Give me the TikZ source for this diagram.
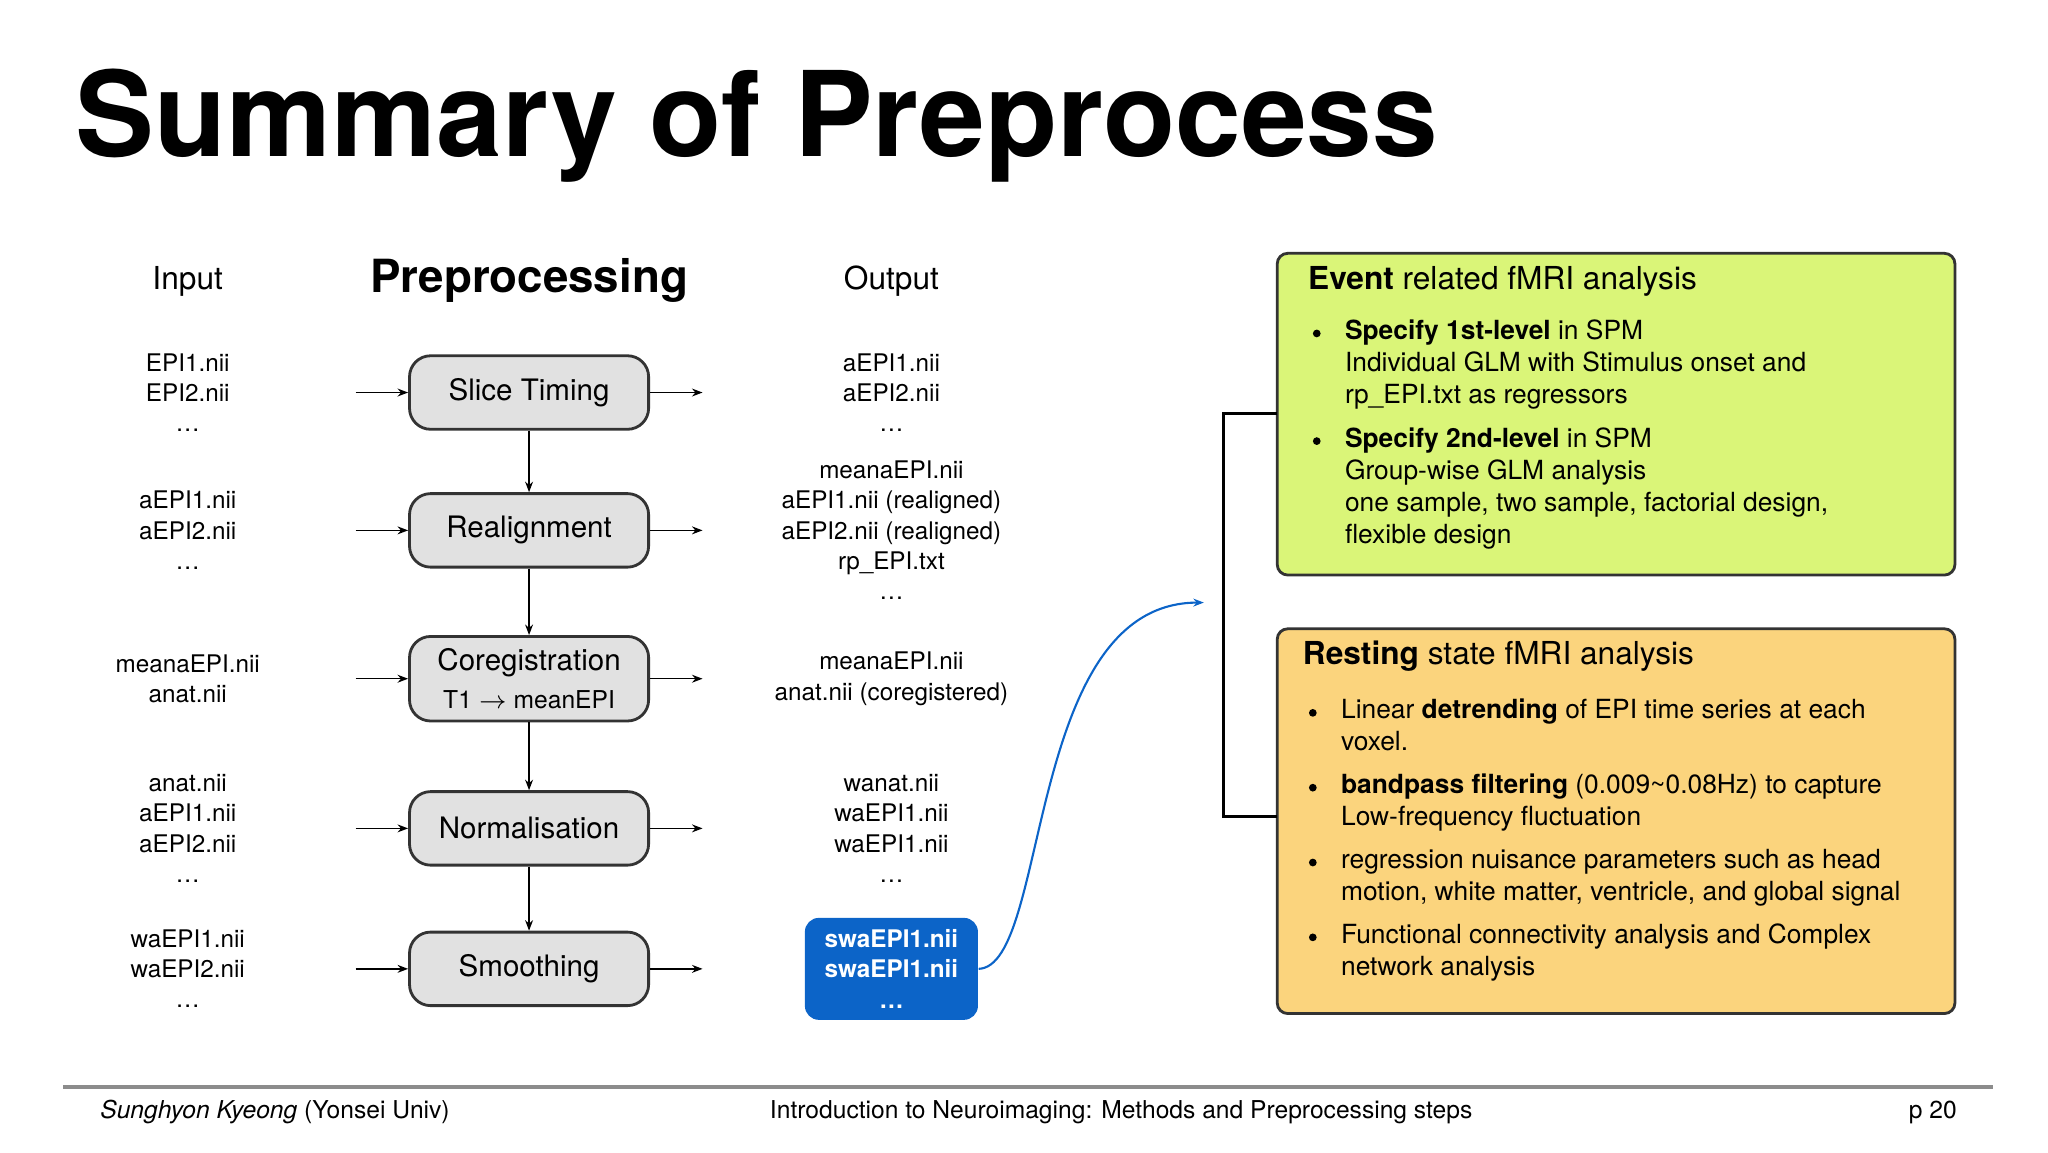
\documentclass[tikz,border=0pt]{standalone}
\usepackage{fontspec}
\setmainfont{TeX Gyre Heros}
\usetikzlibrary{arrows.meta}
\definecolor{boxgray}{RGB}{225,225,225}
\definecolor{outblue}{RGB}{12,100,200}
\definecolor{evgreen}{RGB}{218,245,120}
\definecolor{rsorange}{RGB}{251,212,125}
\begin{document}
\begin{tikzpicture}[x=0.013128cm,y=-0.013128cm,
  stepbox/.style={draw=black!80,fill=boxgray,rounded corners=6pt,line width=0.8pt,
    minimum width=2.39cm,minimum height=0.735cm,font=\fontsize{8.4}{10}\selectfont,align=center},
  txt/.style={font=\fontsize{6.9}{8.6}\selectfont,align=center},
  hdr/.style={font=\fontsize{9}{11}\selectfont},
  arr/.style={-{Stealth[length=3pt]},line width=0.4pt},
  panel/.style={draw=black!80,line width=0.8pt,rounded corners=3pt},
  item/.style={anchor=north west,inner sep=0,align=left,font=\fontsize{7.5}{9.15}\selectfont},
  dot/.style={circle,fill=black,inner sep=0,minimum size=2.2pt}]
\useasboundingbox (0,0) rectangle (1560,878);
% title
\node[anchor=base west,font=\fontsize{33.6}{36}\selectfont\bfseries,inner sep=0] (title) at (57,119) {Summary of Preprocess};
% headers
\node[hdr] (hin) at (143,214) {Input};
\node[hdr,font=\fontsize{13}{15}\selectfont\bfseries] (hpre) at (403,214) {Preprocessing};
\node[hdr] (hout) at (679,214) {Output};
% steps
\node[stepbox] (s1) at (403,299) {Slice Timing};
\node[stepbox] (s2) at (403,404) {Realignment};
\node[stepbox] (s3) at (403,517) {Coregistration\\[1pt]{\fontsize{7}{8}\selectfont T1 $\rightarrow$ meanEPI}};
\node[stepbox] (s4) at (403,631) {Normalisation};
\node[stepbox] (s5) at (403,738) {Smoothing};
\foreach \a/\b in {s1/s2,s2/s3,s3/s4,s4/s5} \draw[arr] (\a) -- (\b);
% inputs
\node[txt] (i1) at (143,299) {EPI1.nii\\EPI2.nii\\\dots};
\node[txt] (i2) at (143,404) {aEPI1.nii\\aEPI2.nii\\\dots};
\node[txt] (i3) at (143,517) {meanaEPI.nii\\anat.nii};
\node[txt] (i4) at (143,631) {anat.nii\\aEPI1.nii\\aEPI2.nii\\\dots};
\node[txt] (i5) at (143,738) {waEPI1.nii\\waEPI2.nii\\\dots};
% outputs
\node[txt] (o1) at (679,299) {aEPI1.nii\\aEPI2.nii\\\dots};
\node[txt] (o2) at (679,404) {meanaEPI.nii\\aEPI1.nii (realigned)\\aEPI2.nii (realigned)\\rp\_EPI.txt\\\dots};
\node[txt] (o3) at (679,517) {meanaEPI.nii\\anat.nii (coregistered)};
\node[txt] (o4) at (679,631) {wanat.nii\\waEPI1.nii\\waEPI1.nii\\\dots};
\node[txt,fill=outblue,text=white,font=\fontsize{6.9}{8.6}\selectfont\bfseries,rounded corners=4pt,
  minimum width=1.73cm,minimum height=0.96cm] (o5) at (679,738) {swaEPI1.nii\\swaEPI1.nii\\\dots};
% side arrows
\foreach \s in {s1,s2,s3,s4,s5}{
  \coordinate (a) at ([xshift=-0.525cm]\s.west);
  \draw[arr] (a) -- (\s.west);
  \coordinate (b) at ([xshift=0.525cm]\s.east);
  \draw[arr] (\s.east) -- (b);}
% curve
\coordinate (ct) at (917,459);
\draw[arr,outblue,line width=0.6pt] (o5.east) .. controls (800,736) and (780,459) .. (ct);
% panels
\node[panel,fill=evgreen,minimum width=6.774cm,minimum height=3.216cm] (ev) at (1231,315.5) {};
\node[panel,fill=rsorange,minimum width=6.774cm,minimum height=3.846cm] (rs) at (1231,625.5) {};
\coordinate (b1) at (932,315);
\coordinate (b2) at (932,622);
\draw[line width=0.8pt] (973,315) -- (b1) -- (b2) -- (973,622);
\node[anchor=west,hdr] (evt) at (987,214) {\textbf{Event} related fMRI analysis};
\node[dot] (d1) at (1003,254) {};
\node[item] (e1) at (1024,243) {\textbf{Specify 1st-level} in SPM\\Individual GLM with Stimulus onset and\\rp\_EPI.txt as regressors};
\node[dot] (d2) at (1003,336) {};
\node[item] (e2) at (1024,325) {\textbf{Specify 2nd-level} in SPM\\Group-wise GLM analysis\\one sample, two sample, factorial design,\\flexible design};
\node[anchor=west,hdr] (rst) at (983,500) {\textbf{Resting} state fMRI analysis};
\node[dot] (d3) at (1000,543) {};
\node[item] (r1) at (1021,532) {Linear \textbf{detrending} of EPI time series at each\\voxel.};
\node[dot] (d4) at (1000,600) {};
\node[item] (r2) at (1021,589) {\textbf{bandpass filtering} (0.009\textasciitilde0.08Hz) to capture\\Low-frequency fluctuation};
\node[dot] (d5) at (1000,657) {};
\node[item] (r3) at (1021,646) {regression nuisance parameters such as head\\motion, white matter, ventricle, and global signal};
\node[dot] (d6) at (1000,714) {};
\node[item] (r4) at (1021,703) {Functional connectivity analysis and Complex\\network analysis};
% footer
\draw[black!45,line width=1.2pt] (48,828) -- (1518,828);
\node[anchor=base west,font=\fontsize{7}{8}\selectfont] (f1) at (67,852) {\textit{Sunghyon Kyeong} (Yonsei Univ)};
\node[anchor=base,font=\fontsize{7}{8}\selectfont] (f2) at (854,852) {Introduction to Neuroimaging: Methods and Preprocessing steps};
\node[anchor=base east,font=\fontsize{7}{8}\selectfont] (f3) at (1500,852) {p 20};
\end{tikzpicture}
\end{document}
